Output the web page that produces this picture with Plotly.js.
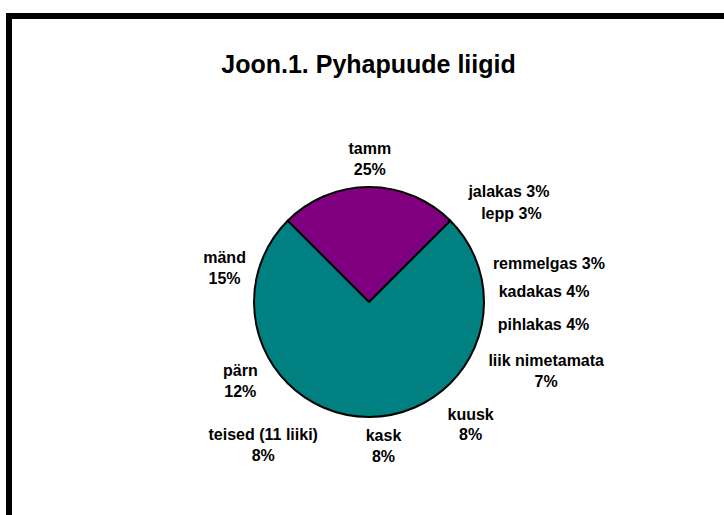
<!DOCTYPE html>
<html>
<head>
<meta charset="utf-8">
<script src="https://cdn.plot.ly/plotly-3.0.1.min.js"></script>
<style>html,body{margin:0;padding:0;background:#fff;}#chart{width:724px;height:515px;}</style>
</head>
<body>
<div id="chart"></div>
<script>
const titleText = 'Joon.1. Pyhapuude liigid';
const labels = ['tamm', 'jalakas', 'lepp', 'remmelgas', 'kadakas', 'pihlakas', 'liik nimetamata', 'kuusk', 'kask', 'teised (11 liiki)', 'pärn', 'mänd'];
const values = [25, 3, 3, 3, 4, 4, 7, 8, 8, 8, 12, 15];
const highlighted = 'tamm';

const W = 724, H = 515;
const font = 'Liberation Sans, Arial, sans-serif';
const purple = '#800080';
const teal = '#008080';

const hiIdx = labels.indexOf(highlighted);
const hiVal = values[hiIdx];
const restVal = values.reduce((a, b) => a + b, 0) - hiVal;

// pie geometry (pixels) -> paper domains
const cx = 369, cy = 302, rPie = 115, rLabel = 130;
function domainFor(r, dx, dy) {
  const x = cx + dx, y = cy + dy;
  return {
    x: [(x - r) / W, (x + r) / W],
    y: [1 - (y + r) / H, 1 - (y - r) / H]
  };
}

const base = {
  type: 'pie',
  labels: [highlighted, 'muud'],
  values: [hiVal, restVal],
  sort: false,
  direction: 'clockwise',
  rotation: -45,
  domain: domainFor(rPie, 0, 0),
  marker: {colors: [purple, teal], line: {color: '#000', width: 2}},
  textinfo: 'none',
  hoverinfo: 'skip',
  showlegend: false
};

const texts = labels.map((l, i) => (values[i] <= 4 ? '%{label} %{percent:.0%}' : '%{label}<br>%{percent:.0%}'));

// label placement groups (pixel nudges of the invisible label ring)
const labelGroups = [
  {names: ['tamm'], dx: -30, dy: 6},
  {names: ['jalakas', 'lepp'], dx: -6, dy: -24},
  {names: ['remmelgas', 'kadakas', 'pihlakas', 'liik nimetamata', 'kuusk'], dx: -4, dy: 2},
  {names: ['kask'], dx: -25, dy: -4},
  {names: ['teised (11 liiki)', 'pärn', 'mänd'], dx: 10, dy: 8}
];

const labelTraces = labelGroups.map(g => ({
  type: 'pie',
  labels: labels,
  values: values,
  sort: false,
  direction: 'clockwise',
  rotation: -45,
  domain: domainFor(rLabel, g.dx, g.dy),
  marker: {colors: labels.map(() => 'rgba(0,0,0,0)'), line: {width: 0}},
  textposition: labels.map(l => (g.names.includes(l) ? 'outside' : 'none')),
  texttemplate: texts,
  textfont: {family: font, size: 16, color: '#000', weight: 'bold'},
  hoverinfo: 'skip',
  showlegend: false
}));

const layout = {
  width: W,
  height: H,
  margin: {l: 0, r: 0, t: 0, b: 0},
  paper_bgcolor: '#fff',
  plot_bgcolor: '#fff',
  title: {
    text: titleText,
    font: {family: font, size: 25, color: '#000', weight: 'bold'},
    x: 0.509, xanchor: 'center',
    y: 0.876, yanchor: 'middle', yref: 'container'
  },
  shapes: [{
    type: 'rect', xref: 'paper', yref: 'paper',
    x0: 9 / W, x1: 1.05, y0: -0.05, y1: 1 - 16 / H,
    line: {color: '#000', width: 6}, fillcolor: 'rgba(0,0,0,0)', layer: 'above'
  }]
};

Plotly.newPlot('chart', [base].concat(labelTraces), layout, {displayModeBar: false, staticPlot: true});
</script>
</body>
</html>
